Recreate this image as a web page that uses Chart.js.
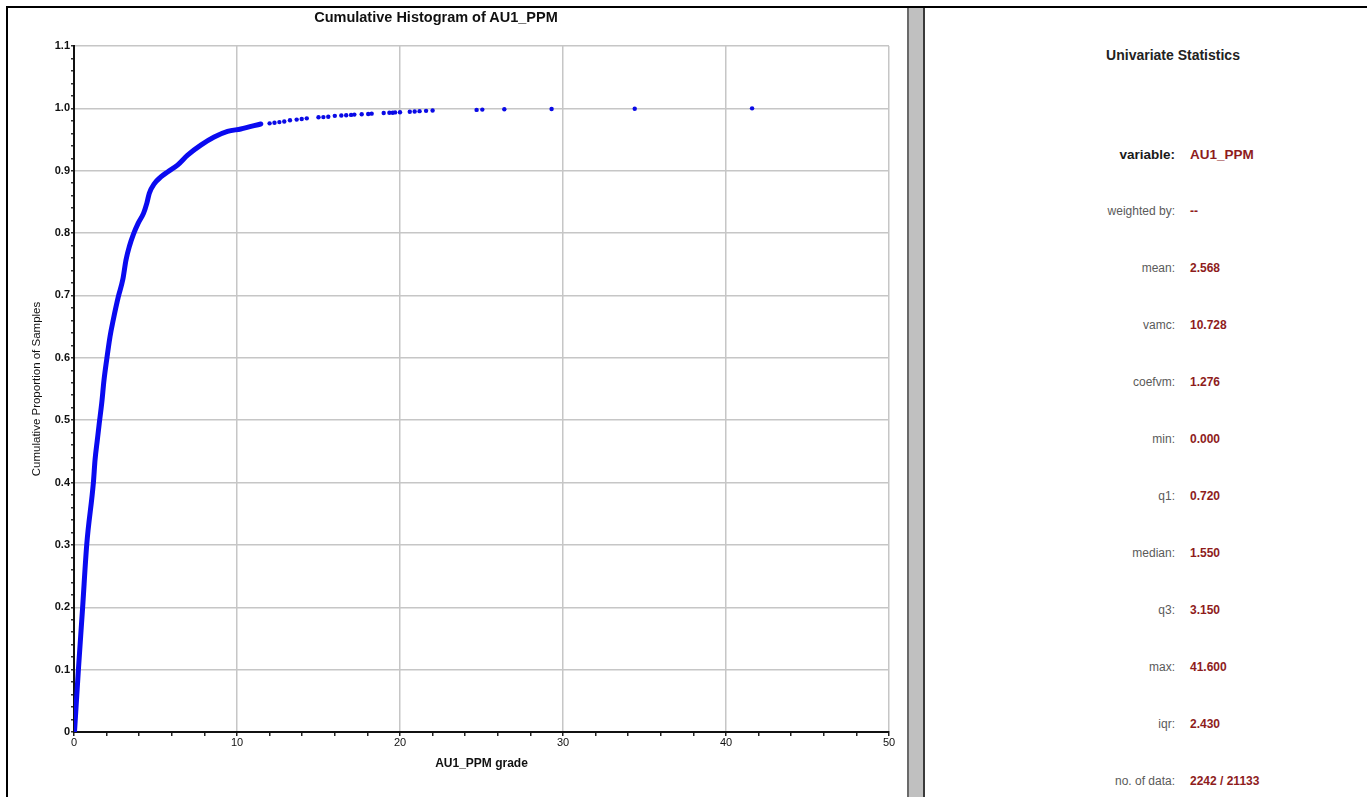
<!DOCTYPE html>
<html>
<head>
<meta charset="utf-8">
<script src="https://cdn.jsdelivr.net/npm/chart.js@4.4.1/dist/chart.umd.min.js"></script>
<style>
  body { margin: 0; background: #fff; font-family: Arial, "Liberation Sans", sans-serif; }
  #page { position: relative; width: 1367px; height: 797px; overflow: hidden; background: #fff; }
  #chart { position: absolute; left: 0; top: 0; }
  .edge { position: absolute; background: #000; z-index: 2; }
  #divider { position: absolute; left: 907px; top: 8px; width: 14px; height: 789px; background: #c0c0c0;
             border-left: 2px solid #6a6a6a; border-right: 2px solid #3a3a3a; }
  #plotTitle { position: absolute; left: 236px; width: 400px; top: 9px; text-align: center;
               font: bold 14.5px Arial, "Liberation Sans", sans-serif; color: #111; }
  #statsTitle { position: absolute; left: 1073px; width: 200px; top: 47px; text-align: center;
                font: bold 14px Arial, "Liberation Sans", sans-serif; color: #222; }
  .row { position: absolute; left: 925px; width: 442px; height: 16px; }
  .row .lab { position: absolute; right: 192px; top: 0; white-space: nowrap;
              font: 12px Arial, "Liberation Sans", sans-serif; color: #5a5a5a; }
  .row .val { position: absolute; left: 265px; top: 0; white-space: nowrap;
              font: bold 12px Arial, "Liberation Sans", sans-serif; color: #8e1c1c; }
  .row.main .lab { font: bold 13.5px Arial, "Liberation Sans", sans-serif; color: #1a1a1a; }
  .row.main .val { font: bold 13.5px Arial, "Liberation Sans", sans-serif; }
</style>
</head>
<body>
<div id="page">
  <canvas id="chart" width="906" height="797"></canvas>
  <div class="edge" style="left:6px; top:6px; width:1361px; height:2px;"></div>
  <div class="edge" style="left:6px; top:6px; width:2px; height:791px;"></div>
  <div id="divider"></div>
  <div id="plotTitle">Cumulative Histogram of AU1_PPM</div>
  <div id="statsTitle">Univariate Statistics</div>
  <div id="stats"></div>
</div>
<script>
// cumulative proportion curve (dense part, drawn as a thick line)
const curveX = [0.03, 0.27, 0.53, 0.78, 1.19, 1.29, 1.43, 1.55, 1.70, 1.84, 2.00, 2.21, 2.41, 2.72, 2.99,
                3.19, 3.39, 3.66, 3.94, 4.27, 4.47, 4.62, 4.92, 5.33, 5.74, 6.35, 6.97, 7.78, 8.60, 9.42,
                10.23, 11.46];
const curveY = [0.000, 0.100, 0.200, 0.300, 0.400, 0.436, 0.468, 0.495, 0.527, 0.564, 0.596, 0.634, 0.661, 0.698, 0.725,
                0.757, 0.778, 0.799, 0.816, 0.832, 0.848, 0.864, 0.879, 0.890, 0.898, 0.909, 0.925, 0.941, 0.954, 0.963,
                0.967, 0.975];

// sparse high-grade samples, drawn as single dots
const tailX = [12.0, 12.3, 12.6, 12.9, 13.25, 13.66, 13.97, 14.28, 15.0, 15.3, 15.6, 16.0, 16.4, 16.7, 17.0, 17.2,
               17.65, 18.05, 18.26, 19.0, 19.35, 19.55, 19.7, 20.0, 20.6, 20.9, 21.2, 21.6, 22.0, 24.7, 25.05,
               26.4, 29.3, 34.4, 41.6];
const tailY = [0.976, 0.977, 0.978, 0.979, 0.981, 0.982, 0.983, 0.984, 0.9857, 0.986, 0.9866, 0.988, 0.9885, 0.989, 0.9895, 0.990,
               0.9905, 0.991, 0.9915, 0.9925, 0.993, 0.993, 0.9935, 0.9937, 0.9945, 0.995, 0.9955, 0.996, 0.9965, 0.9975, 0.998,
               0.9986, 0.999, 0.9995, 1.000];

// axis tick labels (major ticks only; minor ticks stay unlabeled)
const xTickLabels = ['0', '10', '20', '30', '40', '50'];
const yTickLabels = ['0', '0.1', '0.2', '0.3', '0.4', '0.5', '0.6', '0.7', '0.8', '0.9', '1.0', '1.1'];

// stats panel
const statLabels = ['variable:', 'weighted by:', 'mean:', 'vamc:', 'coefvm:', 'min:', 'q1:', 'median:', 'q3:', 'max:', 'iqr:', 'no. of data:'];
const statValues = ['AU1_PPM', '--', '2.568', '10.728', '1.276', '0.000', '0.720', '1.550', '3.150', '41.600', '2.430', '2242 / 21133'];

const statsBox = document.getElementById('stats');
statLabels.forEach((lab, i) => {
    const row = document.createElement('div');
    row.className = 'row' + (i === 0 ? ' main' : '');
    row.style.top = (147 + i * 57) + 'px';
    row.innerHTML = '<span class="lab"></span><span class="val"></span>';
    row.querySelector('.lab').textContent = lab;
    row.querySelector('.val').textContent = statValues[i];
    statsBox.appendChild(row);
});

const toPoints = (xs, ys) => xs.map((x, i) => ({ x: x, y: ys[i] }));

const gridGray = '#c6c6c6';

new Chart(document.getElementById('chart'), {
    type: 'scatter',
    data: {
        datasets: [
            {
                data: toPoints(curveX, curveY),
                showLine: true,
                borderColor: '#0a0af0',
                borderWidth: 5,
                borderCapStyle: 'round',
                borderJoinStyle: 'round',
                pointRadius: 0,
                cubicInterpolationMode: 'monotone'
            },
            {
                data: toPoints(tailX, tailY),
                showLine: false,
                pointRadius: 2.2,
                pointBorderWidth: 0,
                pointBackgroundColor: '#0a0ae6'
            }
        ]
    },
    options: {
        responsive: false,
        animation: false,
        devicePixelRatio: 1,
        layout: { padding: { top: 46, right: 17, left: 0, bottom: 0 } },
        plugins: { legend: { display: false }, tooltip: { enabled: false } },
        scales: {
            x: {
                type: 'linear',
                min: 0, max: 50,
                afterFit: s => { s.height = 65; },
                border: { color: '#111', width: 2 },
                grid: {
                    color: c => (Math.round(c.tick.value) % 10 === 0 ? gridGray : 'rgba(0,0,0,0)'),
                    lineWidth: 1.5,
                    tickColor: '#222',
                    tickLength: 4,
                    drawTicks: true
                },
                ticks: {
                    stepSize: 2,
                    autoSkip: false,
                    maxRotation: 0,
                    padding: 0,
                    color: '#111',
                    font: { family: 'Arial', size: 11 },
                    callback: v => (Math.round(v) % 10 === 0 ? xTickLabels[Math.round(v) / 10] : '')
                },
                title: {
                    display: true,
                    text: 'AU1_PPM grade',
                    color: '#111',
                    font: { family: 'Arial', size: 12, weight: 'bold' },
                    padding: { top: 0, bottom: 26 }
                }
            },
            y: {
                type: 'linear',
                min: 0, max: 1.1,
                afterFit: s => { s.width = 74; },
                border: { color: '#111', width: 2 },
                grid: {
                    color: c => (Math.round(c.tick.value * 100) % 10 === 0 ? gridGray : 'rgba(0,0,0,0)'),
                    lineWidth: 1.5,
                    tickColor: '#333',
                    tickLength: 3,
                    drawTicks: true
                },
                ticks: {
                    stepSize: 0.02,
                    autoSkip: false,
                    padding: 1,
                    color: '#111',
                    font: { family: 'Arial', size: 11, weight: 'bold' },
                    callback: v => {
                        const k = Math.round(v * 100);
                        return k % 10 === 0 ? yTickLabels[k / 10] : '';
                    }
                },
                title: {
                    display: true,
                    text: 'Cumulative Proportion of Samples',
                    color: '#111',
                    font: { family: 'Arial', size: 11.5 },
                    padding: { top: 30, bottom: 0 }
                }
            }
        }
    }
});
</script>
</body>
</html>
